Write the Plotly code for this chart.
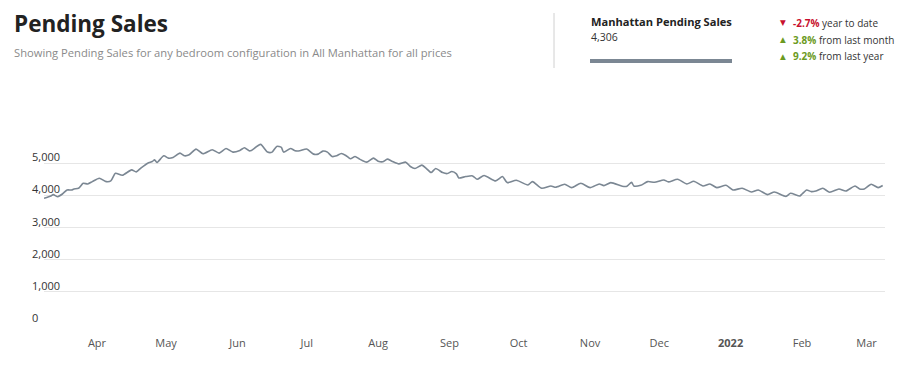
import plotly.graph_objects as go

# ---------------- data ----------------
dates = [
    "2021-03-09", "2021-03-12", "2021-03-13", "2021-03-15", "2021-03-17", "2021-03-19",
    "2021-03-21", "2021-03-22", "2021-03-24", "2021-03-26", "2021-03-28", "2021-03-30",
    "2021-04-02", "2021-04-05", "2021-04-07", "2021-04-09", "2021-04-12", "2021-04-16",
    "2021-04-18", "2021-04-20", "2021-04-23", "2021-04-25", "2021-04-26", "2021-04-27",
    "2021-04-30", "2021-05-02", "2021-05-04", "2021-05-07", "2021-05-09", "2021-05-11",
    "2021-05-14", "2021-05-17", "2021-05-21", "2021-05-24", "2021-05-27", "2021-05-30",
    "2021-06-02", "2021-06-04", "2021-06-06", "2021-06-07", "2021-06-11", "2021-06-14",
    "2021-06-16", "2021-06-18", "2021-06-20", "2021-06-21", "2021-06-24", "2021-06-26",
    "2021-06-28", "2021-07-01", "2021-07-04", "2021-07-06", "2021-07-08", "2021-07-10",
    "2021-07-12", "2021-07-14", "2021-07-16", "2021-07-18", "2021-07-20", "2021-07-22",
    "2021-07-24", "2021-07-27", "2021-07-30", "2021-08-01", "2021-08-03", "2021-08-05",
    "2021-08-07", "2021-08-10", "2021-08-13", "2021-08-15", "2021-08-17", "2021-08-20",
    "2021-08-22", "2021-08-24", "2021-08-26", "2021-08-29", "2021-08-31", "2021-09-02",
    "2021-09-04", "2021-09-05", "2021-09-08", "2021-09-11", "2021-09-13", "2021-09-16",
    "2021-09-21", "2021-09-24", "2021-09-26", "2021-09-30", "2021-10-05", "2021-10-07",
    "2021-10-11", "2021-10-15", "2021-10-17", "2021-10-18", "2021-10-21", "2021-10-24",
    "2021-10-28", "2021-11-01", "2021-11-05", "2021-11-07", "2021-11-10", "2021-11-15",
    "2021-11-17", "2021-11-19", "2021-11-20", "2021-11-23", "2021-11-26", "2021-11-29",
    "2021-12-03", "2021-12-05", "2021-12-09", "2021-12-13", "2021-12-16", "2021-12-20",
    "2021-12-23", "2021-12-26", "2021-12-30", "2022-01-02", "2022-01-06", "2022-01-10",
    "2022-01-13", "2022-01-17", "2022-01-20", "2022-01-25", "2022-01-27", "2022-01-31",
    "2022-02-01", "2022-02-03", "2022-02-05", "2022-02-07", "2022-02-10", "2022-02-13",
    "2022-02-17", "2022-02-20", "2022-02-24", "2022-02-26", "2022-02-28", "2022-03-03",
    "2022-03-06", "2022-03-08",
]
pending_sales = [
    3906, 3979, 4021, 3958, 4042, 4167,
    4167, 4198, 4219, 4375, 4354, 4427,
    4531, 4427, 4448, 4688, 4625, 4792,
    4729, 4844, 5000, 5052, 5104, 5021,
    5229, 5156, 5177, 5313, 5229, 5260,
    5438, 5292, 5417, 5313, 5458, 5344,
    5396, 5479, 5385, 5396, 5583, 5344,
    5344, 5521, 5490, 5344, 5458, 5385,
    5385, 5438, 5281, 5281, 5375, 5344,
    5208, 5229, 5302, 5240, 5135, 5208,
    5125, 5031, 5156, 5063, 5042, 5125,
    5063, 4979, 5031, 4896, 4833, 4938,
    4833, 4708, 4833, 4708, 4677, 4740,
    4667, 4542, 4583, 4604, 4500, 4615,
    4448, 4583, 4396, 4469, 4323, 4427,
    4219, 4292, 4250, 4271, 4344, 4240,
    4375, 4240, 4354, 4302, 4396, 4281,
    4281, 4406, 4292, 4313, 4427, 4406,
    4479, 4417, 4500, 4354, 4438, 4292,
    4354, 4240, 4313, 4167, 4219, 4104,
    4167, 4021, 4104, 3969, 4063, 3979,
    4042, 4167, 4115, 4135, 4219, 4094,
    4198, 4135, 4292, 4198, 4198, 4344,
    4240, 4306,
]

month_ticks = ["2021-04-01", "2021-05-01", "2021-06-01", "2021-07-01", "2021-08-01",
               "2021-09-01", "2021-10-01", "2021-11-01", "2021-12-01", "2022-01-01",
               "2022-02-01", "2022-03-01"]
month_labels = ["Apr", "May", "Jun", "Jul", "Aug", "Sep", "Oct", "Nov", "Dec",
                "<b>2022</b>", "Feb", "Mar"]
y_ticks = [0, 1000, 2000, 3000, 4000, 5000, 6000]
y_labels = ["0", "1,000", "2,000", "3,000", "4,000", "5,000", ""]

title = "Pending Sales"
subtitle = "Showing Pending Sales for any bedroom configuration in All Manhattan for all prices"
series_name = "Manhattan Pending Sales"
current_value = "4,306"
changes = [("-2.7%", "year to date", "down"),
           ("3.8%", "from last month", "up"),
           ("9.2%", "from last year", "up")]

# ---------------- layout geometry ----------------
W, H = 918, 368
L, R, T, B = 44, 33, 131, 44
PW, PH = W - L - R, H - T - B


def px(x):
    return (x - L) / PW


def py(y):
    return (H - B - y) / PH


FONT = "Open Sans, Noto Sans, sans-serif"
LINE_COLOR = "#7b8793"

fig = go.Figure()
fig.add_trace(go.Scatter(
    x=dates, y=pending_sales, mode="lines",
    line=dict(color=LINE_COLOR, width=1.6, shape="spline", smoothing=0.6),
    hoverinfo="x+y", showlegend=False,
))

annotations = []
# y tick labels above gridlines
for v, lab in zip(y_ticks, y_labels):
    if lab:
        annotations.append(dict(
            x=px(30), xref="paper", y=v, yref="y", text=lab, showarrow=False,
            xanchor="left", yanchor="bottom", yshift=-3,
            font=dict(family=FONT, size=11, color="#333333"),
        ))

# headings
annotations.append(dict(x=px(12), y=py(23.5), xref="paper", yref="paper", text="<b>" + title + "</b>",
                        showarrow=False, xanchor="left", yanchor="middle",
                        font=dict(family=FONT, size=22.5, color="#222222")))
annotations.append(dict(x=px(12), y=py(53), xref="paper", yref="paper", text=subtitle,
                        showarrow=False, xanchor="left", yanchor="middle",
                        font=dict(family=FONT, size=11.2, color="#8a8a8a")))
annotations.append(dict(x=px(589), y=py(21), xref="paper", yref="paper", text="<b>" + series_name + "</b>",
                        showarrow=False, xanchor="left", yanchor="middle",
                        font=dict(family=FONT, size=11.1, color="#222222")))
annotations.append(dict(x=px(589), y=py(37), xref="paper", yref="paper", text=current_value,
                        showarrow=False, xanchor="left", yanchor="middle",
                        font=dict(family=FONT, size=10.5, color="#333333")))

for i, (pct, label, direction) in enumerate(changes):
    yy = py(22.5 + i * 17)
    col = "#c8102e" if direction == "down" else "#6b9a22"
    arrow = "▼" if direction == "down" else "▲"
    annotations.append(dict(x=px(778), y=yy, xref="paper", yref="paper", text=arrow,
                            showarrow=False, xanchor="left", yanchor="middle",
                            font=dict(family="DejaVu Sans", size=7.5, color=col)))
    annotations.append(dict(x=px(791), y=yy, xref="paper", yref="paper",
                            text=f"<b><span style='color:{col}'>{pct}</span></b> {label}",
                            showarrow=False, xanchor="left", yanchor="middle",
                            font=dict(family=FONT, size=10, color="#333333")))

shapes = [
    dict(type="line", xref="paper", yref="paper", x0=px(554), x1=px(554), y0=py(13), y1=py(68),
         line=dict(color="#d0d0d0", width=1)),
    dict(type="rect", xref="paper", yref="paper", x0=px(590), x1=px(732), y0=py(59), y1=py(63),
         fillcolor="#7b8793", line=dict(width=0)),
]

fig.update_layout(
    width=W, height=H,
    margin=dict(l=L, r=R, t=T, b=B, pad=0),
    paper_bgcolor="white", plot_bgcolor="white",
    font=dict(family=FONT, size=11, color="#555555"),
    showlegend=False,
    annotations=annotations,
    shapes=shapes,
    xaxis=dict(
        range=["2021-03-09", "2022-03-09"],
        tickvals=month_ticks, ticktext=month_labels,
        showgrid=False, zeroline=False, showline=False, ticks="",
        ticklabelstandoff=11,
        tickfont=dict(family=FONT, size=11, color="#555555"),
        fixedrange=True,
    ),
    yaxis=dict(
        range=[0, 6000], tickvals=y_ticks, ticktext=y_labels,
        showticklabels=False, showgrid=True, gridcolor="#e6e6e6", gridwidth=1,
        zeroline=False, showline=False, ticks="", fixedrange=True,
    ),
)

fig.write_html("out.html", config={"displayModeBar": False},
               post_script="document.body.style.margin='0';document.body.style.overflow='hidden';")
